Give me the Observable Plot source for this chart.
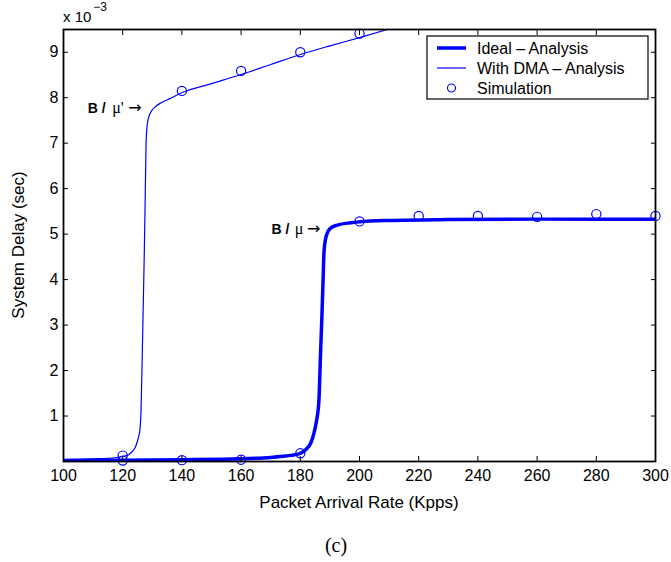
<!DOCTYPE html>
<html>
<head>
<meta charset="utf-8">
<script src="https://cdn.jsdelivr.net/npm/d3@7"></script>
<script src="https://cdn.jsdelivr.net/npm/@observablehq/plot@0.6"></script>
<style>
  html, body { margin: 0; padding: 0; background: #fff; }
  #chart svg { display: block; }
</style>
</head>
<body>
<div id="chart"></div>
<script>
// ---- data (delay in units of 1e-3 sec) ----
const xTicks = [100, 120, 140, 160, 180, 200, 220, 240, 260, 280, 300];
const yTicks = [1, 2, 3, 4, 5, 6, 7, 8, 9];

const idealX = [100, 120, 140, 160, 170, 175, 180, 182, 183.5, 184.6, 185.5, 186.3, 186.8, 187.3, 187.7, 188, 188.5, 189.1, 190, 192.5, 197, 200, 210, 230, 260, 300];
const idealY = [0.02, 0.03, 0.04, 0.06, 0.09, 0.12, 0.18, 0.27, 0.4, 0.62, 0.9, 1.35, 2.3, 3.2, 4.0, 4.6, 4.88, 5.02, 5.12, 5.2, 5.25, 5.27, 5.3, 5.32, 5.33, 5.33];

const dmaX = [100, 110, 115, 120, 122, 123.5, 124.3, 125, 125.5, 125.8, 126.2, 126.5, 126.9, 127.3, 127.6, 127.9, 128.2, 128.7, 129.5, 131, 133, 136, 140, 150, 160, 170, 180, 190, 200, 210];
const dmaY = [0.04, 0.06, 0.07, 0.11, 0.15, 0.24, 0.32, 0.45, 0.58, 0.69, 1.13, 2.0, 3.3, 4.6, 5.8, 7.0, 7.35, 7.55, 7.68, 7.8, 7.89, 7.98, 8.11, 8.31, 8.51, 8.73, 8.95, 9.14, 9.32, 9.51];

const simIdealX = [120, 140, 160, 180, 200, 220, 240, 260, 280, 300];
const simIdealY = [0.02, 0.03, 0.04, 0.18, 5.28, 5.40, 5.40, 5.38, 5.44, 5.40];
const simDmaX = [120, 140, 160, 180, 200];
const simDmaY = [0.13, 8.15, 8.59, 9.0, 9.41];

const legendLabels = ["Ideal \u2013 Analysis", "With DMA \u2013 Analysis", "Simulation"];
const xLabel = "Packet Arrival Rate (Kpps)";
const yLabel = "System Delay (sec)";
const caption = "(c)";

// ---- tables built from arrays ----
const ideal = idealX.map((x, i) => ({x, y: idealY[i]}));
const dma = dmaX.map((x, i) => ({x, y: dmaY[i]}));
const sim = simIdealX.map((x, i) => ({x, y: simIdealY[i]}))
  .concat(simDmaX.map((x, i) => ({x, y: simDmaY[i]})));
const annDma = [{x: 126.4, y: 7.77}];
const annIdeal = [{x: 186.8, y: 5.11}];

const blue = "rgb(0,0,255)";
const FONT = "'Liberation Sans', Arial, Helvetica, sans-serif";
const SERIF = "'Liberation Serif', 'Times New Roman', serif";

const annMarks = (data, mu, muDx, bDx) => [
  Plot.text(data, {x: "x", y: "y", text: () => "\u2192", textAnchor: "end", fontSize: 16, fontFamily: "'DejaVu Sans', sans-serif"}),
  Plot.text(data, {x: "x", y: "y", text: () => mu, textAnchor: "end", dx: muDx, fontSize: 16, fontFamily: SERIF}),
  Plot.text(data, {x: "x", y: "y", text: () => "B /", textAnchor: "end", dx: bDx, fontSize: 14, fontWeight: "bold"})
];

const plot = Plot.plot({
  width: 671,
  height: 562,
  marginLeft: 63,
  marginRight: 16,
  marginTop: 29,
  marginBottom: 101,
  style: {fontFamily: FONT, fontSize: "16px", color: "#000", background: "#fff", overflow: "visible"},
  x: {domain: [100, 300]},
  y: {domain: [0, 9.5]},
  marks: [
    Plot.line(dma, {x: "x", y: "y", stroke: blue, strokeWidth: 1.2, curve: "monotone-x", clip: true}),
    Plot.line(ideal, {x: "x", y: "y", stroke: blue, strokeWidth: 3.5, curve: "monotone-x", clip: true}),
    Plot.dot(sim, {x: "x", y: "y", r: 4.6, stroke: blue, strokeWidth: 1.2, fill: "none"}),
    Plot.axisX({ticks: xTicks, tickSize: -5, tickPadding: 13, tickFormat: d => String(d), label: null, fontSize: 16, stroke: "#000"}),
    Plot.axisX({anchor: "top", ticks: xTicks, tickSize: -5, tickFormat: () => "", label: null, stroke: "#000"}),
    Plot.axisY({ticks: yTicks, tickSize: -5, tickPadding: 10, tickFormat: d => String(d), label: null, fontSize: 16, stroke: "#000"}),
    Plot.axisY({anchor: "right", ticks: yTicks, tickSize: -5, tickFormat: () => "", label: null, stroke: "#000"}),
    Plot.frame({stroke: "#000", strokeWidth: 1.8}),
    ...annMarks(annDma, "\u03bc'", -18, -36),
    ...annMarks(annIdeal, "\u03bc", -17, -31)
  ]
});

const svg = d3.select(plot);

// axis titles
svg.append("text").attr("x", 359).attr("y", 508).attr("text-anchor", "middle")
  .style("font-family", FONT).style("font-size", "17px").text(xLabel);
svg.append("text").attr("transform", "translate(24,245) rotate(-90)").attr("text-anchor", "middle")
  .style("font-family", FONT).style("font-size", "17px").text(yLabel);

// exponent label
const ex = svg.append("text").attr("x", 63).attr("y", 22).attr("text-anchor", "start")
  .style("font-family", FONT).style("font-size", "15px");
ex.append("tspan").text("x 10");
ex.append("tspan").attr("dx", 2).attr("dy", -11).style("font-size", "12px").text("\u22123");

// caption
svg.append("text").attr("x", 336).attr("y", 552).attr("text-anchor", "middle")
  .style("font-family", SERIF).style("font-size", "20px").text(caption);

// legend
const lg = svg.append("g");
lg.append("rect").attr("x", 427).attr("y", 36).attr("width", 221).attr("height", 63)
  .attr("fill", "#fff").attr("stroke", "#000").attr("stroke-width", 1.2);
const rows = [48, 68, 88];
lg.append("line").attr("x1", 437).attr("x2", 466).attr("y1", rows[0]).attr("y2", rows[0]).attr("stroke", blue).attr("stroke-width", 3.5);
lg.append("line").attr("x1", 437).attr("x2", 466).attr("y1", rows[1]).attr("y2", rows[1]).attr("stroke", blue).attr("stroke-width", 1.2);
lg.append("circle").attr("cx", 451.5).attr("cy", rows[2]).attr("r", 4).attr("fill", "none").attr("stroke", blue).attr("stroke-width", 1.2);
legendLabels.forEach((t, i) => {
  lg.append("text").attr("x", 477).attr("y", rows[i]).attr("dy", "0.36em").attr("text-anchor", "start")
    .style("font-family", FONT).style("font-size", "16px").text(t);
});

document.getElementById("chart").appendChild(plot);
</script>
</body>
</html>
